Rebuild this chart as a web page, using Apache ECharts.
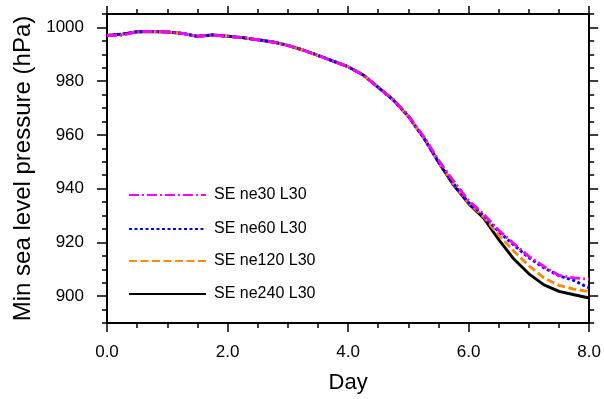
<!DOCTYPE html>
<html>
<head>
<meta charset="utf-8">
<script src="https://cdn.jsdelivr.net/npm/echarts@6/dist/echarts.min.js"></script>
<style>
html,body{margin:0;padding:0;background:#fff;}
#chart{width:604px;height:399px;}
</style>
</head>
<body>
<div id="chart"></div>
<script>
// Day (6-hourly)
var days = [0, 0.25, 0.5, 0.75, 1, 1.25, 1.5, 1.75, 2, 2.25, 2.5, 2.75, 3, 3.25, 3.5, 3.75,
            4, 4.25, 4.5, 4.75, 5, 5.25, 5.5, 5.75, 6, 6.25, 6.5, 6.75, 7, 7.25, 7.5, 7.75, 8];

var ne30 = [997.0, 997.1, 998.4, 998.5, 998.3, 997.8, 996.7, 997.2, 996.7, 996.2, 995.4, 994.6, 993.3, 991.6, 989.6, 987.5,
            985.4, 982.3, 977.8, 973.2, 967.2, 959.6, 950.6, 942.8, 935.6, 930.5, 924.5, 919.5, 914.8, 911.0, 907.7, 906.8, 906.3];
var ne60 = [997.0, 997.5, 998.4, 998.5, 998.3, 997.8, 996.7, 997.2, 996.7, 996.2, 995.4, 994.6, 993.3, 991.6, 989.6, 987.5,
            985.4, 982.3, 977.7, 973.0, 966.9, 959.1, 949.9, 941.9, 934.8, 930.0, 924.0, 919.0, 914.3, 910.5, 907.6, 905.8, 903.0];
var ne120 = [997.0, 997.5, 998.4, 998.5, 998.3, 997.8, 996.7, 997.2, 996.7, 996.2, 995.4, 994.6, 993.3, 991.6, 989.6, 987.5,
            985.4, 982.3, 977.7, 973.0, 966.9, 959.1, 949.9, 941.7, 934.7, 929.5, 922.7, 916.8, 911.3, 906.8, 904.0, 902.6, 901.7];
var ne240 = [997.0, 997.5, 998.4, 998.5, 998.3, 997.8, 996.7, 997.2, 996.7, 996.2, 995.4, 994.6, 993.3, 991.6, 989.6, 987.5,
            985.4, 982.3, 977.7, 973.0, 966.9, 959.1, 949.8, 941.3, 934.4, 929.0, 921.0, 913.8, 908.3, 904.2, 901.8, 900.5, 899.3];

var seriesNames = ['SE ne30 L30', 'SE ne60 L30', 'SE ne120 L30', 'SE ne240 L30'];
var yMajorTicks = [900, 920, 940, 960, 980, 1000];
var xLabels = ['0.0', '2.0', '4.0', '6.0', '8.0'];

var FONT = '"Liberation Sans", Arial, Helvetica, sans-serif';

function pairs(arr) { return days.map(function (d, i) { return [d, arr[i]]; }); }

var axisLine = { show: true, onZero: false, lineStyle: { color: '#000', width: 2 } };

var chart = echarts.init(document.getElementById('chart'), null, { renderer: 'canvas' });

var option = {
  animation: false,
  backgroundColor: '#fff',
  grid: { left: 107, right: 12, top: 14, bottom: 74, containLabel: false },
  xAxis: [
    {
      type: 'value', min: 0, max: 8, interval: 2, position: 'bottom',
      axisLine: axisLine,
      axisTick: { show: true, inside: false, length: 9, lineStyle: { color: '#000', width: 1.5 } },
      minorTick: { show: true, splitNumber: 4, length: 5, lineStyle: { color: '#000', width: 1.5 } },
      splitLine: { show: false },
      axisLabel: {
        margin: 21, fontSize: 17, color: '#000', fontFamily: FONT,
        formatter: function (v) { return xLabels[Math.round(v / 2)]; }
      },
      name: 'Day', nameLocation: 'middle', nameGap: 49,
      nameTextStyle: { fontSize: 22, color: '#000', fontFamily: FONT }
    },
    {
      type: 'value', min: 0, max: 8, interval: 2, position: 'top',
      axisLine: axisLine,
      axisTick: { show: true, inside: false, length: 8, lineStyle: { color: '#000', width: 1.5 } },
      minorTick: { show: true, splitNumber: 4, length: 5, lineStyle: { color: '#000', width: 1.5 } },
      splitLine: { show: false },
      axisLabel: { show: false }
    }
  ],
  yAxis: [
    {
      type: 'value', min: 890, max: 1005, position: 'left',
      axisLine: axisLine,
      axisTick: { show: true, inside: false, length: 10, customValues: yMajorTicks, lineStyle: { color: '#000', width: 1.5 } },
      splitLine: { show: false },
      axisLabel: {
        show: true, customValues: yMajorTicks, margin: 23, fontSize: 17, color: '#000', fontFamily: FONT,
        formatter: function (v) { return String(Math.round(v)); }
      },
      name: 'Min sea level pressure (hPa)', nameLocation: 'middle', nameGap: 72, nameRotate: 90,
      nameTextStyle: { fontSize: 24, color: '#000', fontFamily: FONT }
    },
    {
      type: 'value', min: 890, max: 1005, interval: 5, position: 'left',
      axisLine: axisLine,
      axisTick: { show: true, inside: false, length: 5, lineStyle: { color: '#000', width: 1.5 } },
      splitLine: { show: false },
      axisLabel: { show: false }
    },
    {
      type: 'value', min: 890, max: 1005, position: 'right',
      axisLine: axisLine,
      axisTick: { show: true, inside: false, length: 9, customValues: yMajorTicks, lineStyle: { color: '#000', width: 1.5 } },
      splitLine: { show: false },
      axisLabel: { show: false }
    },
    {
      type: 'value', min: 890, max: 1005, interval: 5, position: 'right',
      axisLine: axisLine,
      axisTick: { show: true, inside: false, length: 5, lineStyle: { color: '#000', width: 1.5 } },
      splitLine: { show: false },
      axisLabel: { show: false }
    }
  ],
  legend: [0, 1, 2, 3].map(function (i) {
    return {
      data: [seriesNames[i]],
      left: 128, top: [187, 221, 253, 286][i],
      padding: 0,
      orient: 'vertical',
      itemWidth: 77, itemHeight: 14,
      selectedMode: false,
      itemStyle: { opacity: 0 },
      textStyle: { fontSize: 16, color: '#000', fontFamily: FONT, padding: [0, 0, 0, 3] }
    };
  }),
  series: [
    {
      name: seriesNames[0], type: 'line', data: pairs(ne30), symbol: 'none', z: 5,
      color: '#ff00ff',
      lineStyle: { color: '#ff00ff', width: 2.9, type: [10, 3, 2, 3] }
    },
    {
      name: seriesNames[1], type: 'line', data: pairs(ne60), symbol: 'none', z: 4,
      color: '#0000ff',
      lineStyle: { color: '#0000ff', width: 2.9, type: [3, 2.5] }
    },
    {
      name: seriesNames[2], type: 'line', data: pairs(ne120), symbol: 'none', z: 3,
      color: '#ff8c00',
      lineStyle: { color: '#ff8c00', width: 2.9, type: [8, 3.5] }
    },
    {
      name: seriesNames[3], type: 'line', data: pairs(ne240), symbol: 'none', z: 2,
      color: '#000000',
      lineStyle: { color: '#000000', width: 2.9, type: 'solid' }
    }
  ]
};

chart.setOption(option);
</script>
</body>
</html>
